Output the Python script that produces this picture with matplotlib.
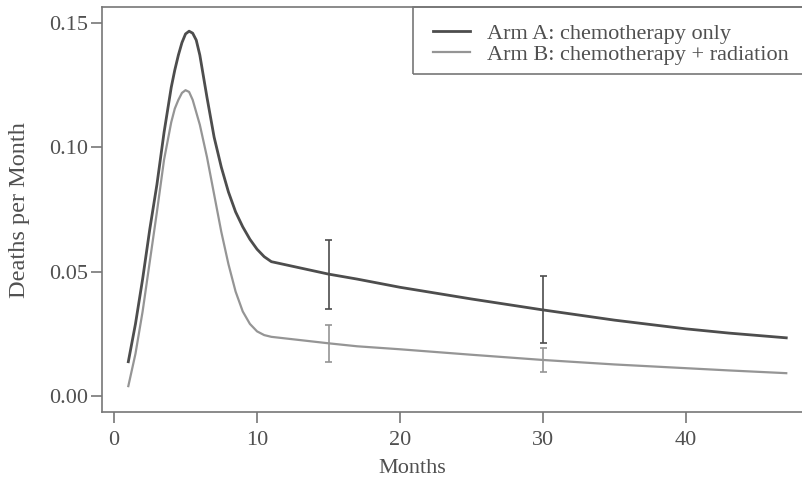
import numpy as np
import matplotlib.pyplot as plt
from matplotlib.patches import Rectangle

plt.rcParams['font.family'] = ['Liberation Serif', 'DejaVu Serif']

# hazard curves, deaths per month
months_a = [1.0, 1.5, 2.0, 2.5, 3.0, 3.5, 4.0, 4.25, 4.5, 4.75, 5.0, 5.25, 5.5,
            5.75, 6.0, 6.5, 7.0, 7.5, 8.0, 8.5, 9.0, 9.5, 10.0, 10.5, 11.0,
            13, 15, 17, 20, 25, 30, 35, 40, 43, 47]
arm_a = [0.0138, 0.029, 0.047, 0.067, 0.085, 0.106, 0.124, 0.131, 0.137, 0.142,
         0.1455, 0.1466, 0.1458, 0.143, 0.137, 0.120, 0.104, 0.092, 0.082,
         0.074, 0.068, 0.063, 0.059, 0.056, 0.054, 0.0515, 0.049, 0.047,
         0.0437, 0.039, 0.0346, 0.0305, 0.027, 0.0253, 0.0234]

months_b = [1.0, 1.5, 2.0, 2.5, 3.0, 3.5, 4.0, 4.25, 4.5, 4.75, 5.0, 5.25, 5.5,
            6.0, 6.5, 7.0, 7.5, 8.0, 8.5, 9.0, 9.5, 10.0, 10.5, 11.0, 13, 15,
            17, 20, 25, 30, 35, 40, 43, 47]
arm_b = [0.004, 0.017, 0.034, 0.054, 0.074, 0.095, 0.110, 0.1155, 0.119, 0.1218,
         0.1229, 0.1222, 0.119, 0.109, 0.096, 0.081, 0.066, 0.053, 0.042,
         0.034, 0.029, 0.026, 0.0245, 0.0238, 0.0225, 0.0212, 0.020, 0.0188,
         0.0166, 0.0145, 0.0127, 0.0112, 0.0103, 0.0092]

# interval estimates at 15 and 30 months
err_months = [15, 30]
a_low = [0.0349, 0.0213]
a_high = [0.0627, 0.0483]
b_low = [0.0138, 0.0095]
b_high = [0.0285, 0.0193]

col_a = '#4d4d4d'
col_b = '#959595'
txt = '#505050'
edge = '#777777'

fig = plt.figure(figsize=(8.03, 4.84), dpi=100)
ax = fig.add_axes([102 / 803, 72 / 484, 710 / 803, 404.7 / 484])

ax.plot(months_a, arm_a, color=col_a, lw=2.0, label='Arm A: chemotherapy only')
ax.plot(months_b, arm_b, color=col_b, lw=1.6, label='Arm B: chemotherapy + radiation')

cap = 0.25
for lo, hi, c in [(a_low, a_high, col_a), (b_low, b_high, col_b)]:
    xs = np.array(err_months)
    ax.vlines(xs, lo, hi, color=c, lw=1.2)
    ax.hlines(lo, xs - cap, xs + cap, color=c, lw=1.2)
    ax.hlines(hi, xs - cap, xs + cap, color=c, lw=1.2)

ax.set_xlim(-0.84, 48.8)
ax.set_ylim(-0.0064, 0.1562)
ax.set_xticks([0, 10, 20, 30, 40])
ax.set_yticks([0.0, 0.05, 0.10, 0.15])
ax.set_yticklabels(['0.00', '0.05', '0.10', '0.15'])

for s in ax.spines.values():
    s.set_color(edge)
    s.set_linewidth(1.2)
ax.tick_params(axis='both', colors=edge, labelcolor=txt, labelsize=16,
               length=8, width=1.2)
ax.tick_params(axis='y', pad=2)
ax.tick_params(axis='x', pad=6)

ax.set_xlabel('Months', fontsize=16, color=txt)
ax.set_ylabel('Deaths per Month', fontsize=17.5, color=txt)
ax.xaxis.set_label_coords((412 - 102) / 710, -0.115)
ax.yaxis.set_label_coords(-0.102, 0.5)

# legend box drawn separately so the padding can differ across and down
ax.add_patch(Rectangle(((413 - 102) / 710, 1 - (74 - 7.3) / 404.7),
                       1 - (413 - 102) / 710, (74 - 7.3) / 404.7,
                       transform=ax.transAxes, fill=False, edgecolor=edge,
                       lw=1.2, clip_on=False, zorder=5))
leg = ax.legend(loc='upper left', bbox_to_anchor=((433 - 102) / 710, 1 - (23.2 - 7.3) / 404.7),
                fontsize=16, frameon=False, borderaxespad=0, borderpad=0,
                handlelength=1.68, handletextpad=0.77, labelspacing=0.02)
for t in leg.get_texts():
    t.set_color(txt)

fig.savefig('out.png', dpi=100)
